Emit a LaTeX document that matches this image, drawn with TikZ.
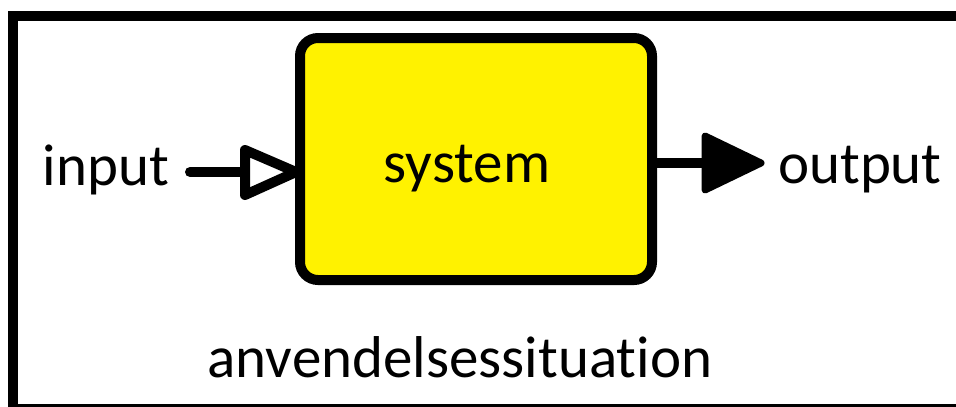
\documentclass[tikz,border=0pt]{standalone}
\usepackage{fontspec}
\setmainfont{Carlito}[Ligatures=NoCommon]
\usetikzlibrary{calc}
\definecolor{sysyellow}{RGB}{255,242,0}
\tikzset{
  frame/.style={draw=black, line width=10.5pt},
  sysbox/.style={draw=black, fill=sysyellow, line width=10pt, rounded corners=18pt},
  lbl/.style={inner sep=0pt, anchor=base, font=\fontsize{59}{62}\selectfont},
  shaft/.style={draw=black, line width=10pt, line cap=round},
  openhead/.style={draw=black, fill=white, line width=10pt, line join=round},
  fullhead/.style={draw=black, fill=black, line width=7pt, line join=round},
}
\begin{document}
\begin{tikzpicture}[x=1pt,y=-1pt]
\useasboundingbox (0,0) rectangle (956,407);
\clip (0,0) rectangle (956,407);
% outer frame (runs past right and bottom edge)
\draw[frame] (13,16) rectangle (968,409);
% system box
\draw[sysbox] (300,38) rectangle (652,280);
\node[lbl] (system) at (467,182) {system};
\node[lbl] (input) at (106,185) {input};
\node[lbl] (output) at (860,183) {output};
\node[lbl] (situation) at (460,377) {anvendelsessituation};
% input connector
\coordinate (inStart) at (190,172);
\coordinate (inTip) at (296,172);
\draw[shaft] (inStart) -- ($(inTip)+(-51,0)$);
\draw[openhead] ($(inTip)+(-51,-22)$) -- (inTip) -- ($(inTip)+(-51,23)$) -- cycle;
% output connector
\coordinate (outStart) at (652,163);
\coordinate (outTip) at (761,163);
\draw[shaft, line cap=butt] (outStart) -- ($(outTip)+(-56,0)$);
\draw[fullhead] ($(outTip)+(-56,-27)$) -- (outTip) -- ($(outTip)+(-56,27)$) -- cycle;
\end{tikzpicture}
\end{document}
